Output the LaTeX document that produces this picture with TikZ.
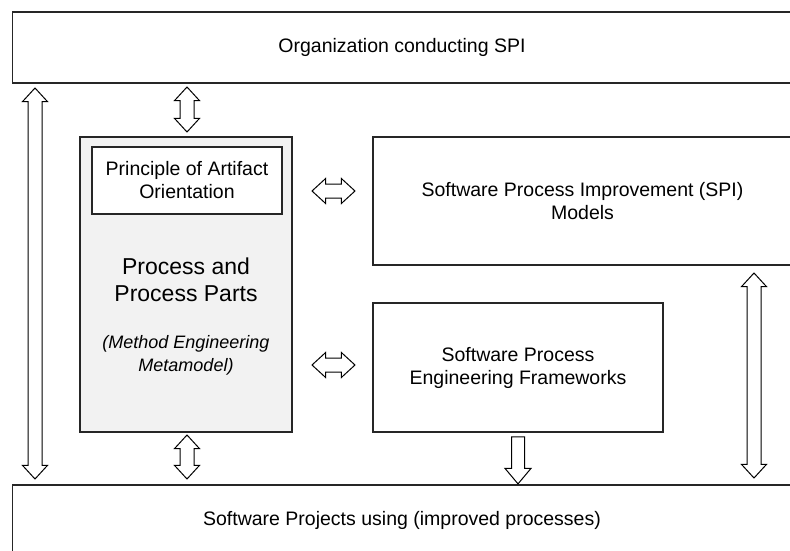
\documentclass[tikz,border=0pt]{standalone}
\usepackage{fontspec}
\setmainfont{Liberation Sans}
\usetikzlibrary{shapes.arrows}
\begin{document}
\begin{tikzpicture}[x=1pt,y=-1pt,
  box/.style={draw=black!85, line width=1.3pt, align=center, inner sep=0pt},
  txt/.style={font=\fontsize{19.5}{23}\selectfont},
  dbl/.style={draw=black, line width=1pt, double arrow, double arrow head extend=5.5pt,
    double arrow tip angle=85, inner xsep=0pt, inner ysep=6.5pt, minimum width=0pt},
  sgl/.style={draw=black, line width=1pt, single arrow, single arrow head extend=6.5pt,
    single arrow tip angle=80, inner xsep=0pt, inner ysep=6pt, minimum width=0pt}]
\useasboundingbox (0,0) rectangle (790,551);
\fill[white] (0,0) rectangle (790,551);
% boxes
\node (org) [box, txt, minimum width=779.5pt, minimum height=71pt] at (402,47.5) {Organization conducting SPI};
\node (proj) [box, txt, minimum width=779.5pt, minimum height=70pt] at (402,520) {Software Projects using (improved processes)};
\node (proc) [box, fill=black!5, minimum width=212pt, minimum height=295pt] at (186,284.5) {};
\node (art) [box, txt, fill=white, minimum width=190pt, minimum height=67pt] at (187,180.5) {Principle of Artifact\\Orientation};
\node (pp) [align=center, font=\fontsize{23}{26.5}\selectfont] at (186,280) {Process and\\Process Parts};
\node (mem) [align=center, font=\fontsize{18}{23}\selectfont\itshape] at (186,355) {(Method Engineering\\Metamodel)};
\node (spi) [box, txt, minimum width=419pt, minimum height=128pt] at (582.5,201) {Software Process Improvement (SPI)\\Models};
\node (spef) [box, txt, minimum width=290pt, minimum height=129pt] at (518,367.5) {Software Process\\Engineering Frameworks};
% block arrows
\node (aLeft) [dbl, rotate=90, minimum height=391pt] at (35,283.5) {};
\node (aTop) [dbl, rotate=90, minimum height=45pt] at (187,109.5) {};
\node (aBot) [dbl, rotate=90, minimum height=44pt] at (187,457) {};
\node (aRight) [dbl, rotate=90, minimum height=205pt] at (754,375.5) {};
\node (aH1) [dbl, minimum height=43pt] at (333.5,191) {};
\node (aH2) [dbl, minimum height=43pt] at (333.5,365) {};
\node (aDown) [sgl, rotate=-90, minimum height=47pt] at (518,456.5) {};
\end{tikzpicture}
\end{document}
